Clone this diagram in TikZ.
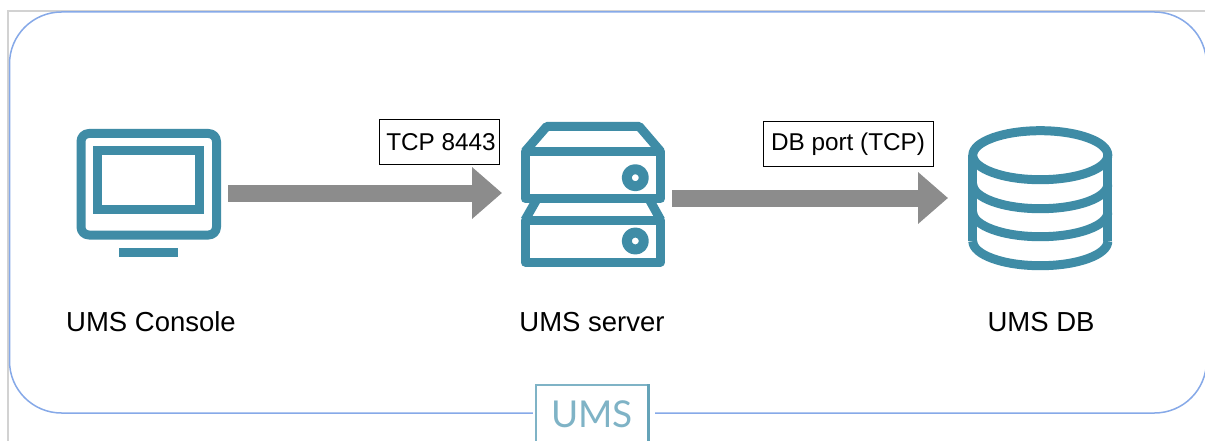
\documentclass[tikz,border=0pt]{standalone}
\usepackage{fontspec}
\setmainfont{Liberation Sans}
\newfontfamily\logofont{Lato}
\usetikzlibrary{arrows.meta}
\definecolor{umsteal}{HTML}{3F8CA6}
\definecolor{umslogo}{HTML}{7FB3C6}
\definecolor{umsframe}{HTML}{86A9E8}
\definecolor{umsrule}{HTML}{D2D2D2}
\definecolor{umsgray}{HTML}{8C8C8C}
\tikzstyle{icon}=[draw=umsteal, line width=9pt, line join=round]
\tikzstyle{iconlabel}=[anchor=base, font=\fontsize{27.5}{30}\selectfont]
\tikzstyle{portlabel}=[draw, line width=1pt, inner sep=0pt, minimum height=45pt, font=\fontsize{24.3}{28}\selectfont]
\tikzstyle{flow}=[draw=umsgray, line width=17pt, -{Triangle[length=30pt,width=50pt]}]
\tikzstyle{logobox}=[draw=umslogo, fill=white, line width=1.5pt, inner sep=0pt, minimum width=112pt, minimum height=70pt]

\begin{document}
\begin{tikzpicture}[x=1pt, y=-1pt]
      \clip (0, 0) rectangle (1205, 441);
      \fill[white] (0, 0) rectangle (1205, 441);
      \draw[umsrule, line width=1.5pt] (8, 441) -- (8, 11) -- (1205, 11);
      \draw[umsframe, line width=1.5pt, rounded corners=52pt] (9.5, 12) rectangle (1206.5, 413);

      \draw[icon, rounded corners=8pt] (81, 133.5) rectangle (216.5, 235);
      \draw[icon, line join=miter] (97.5, 150.5) rectangle (199, 209.5);
      \fill[umsteal] (118.7, 247.7) rectangle (178.3, 256.7);

      \draw[icon] (525, 151.5) -- (546.7, 126.5) -- (639.3, 126.5) -- (660.7, 151.5);
      \draw[icon] (525, 151.5) rectangle (660.7, 198.5);
      \draw[icon] (525, 220) -- (537, 199) (660.7, 220) -- (649, 199);
      \draw[icon] (525, 220) rectangle (660.7, 262);
      \foreach \cy in {177.7, 241}
        \draw[icon, line width=10pt] (635.3, \cy) circle[radius=8.5pt];

      \draw[icon] (1040.3, 155.2) ellipse[x radius=67.5pt, y radius=24.5pt];
      \draw[icon] (972.8, 155.2) -- (972.8, 241.2) (1107.8, 155.2) -- (1107.8, 241.2);
      \foreach \dy in {29, 57, 86}
        \draw[icon] (972.8, 155.2+\dy) arc[start angle=180, end angle=360, x radius=67.5pt, y radius=24.5pt];

      \node[iconlabel] (console_label) at (151, 331) {UMS Console};
      \node[iconlabel] (server_label) at (592, 331) {UMS server};
      \node[iconlabel] (db_label) at (1041, 331) {UMS DB};

      \node[portlabel, minimum width=120pt] (tcp_label) at (439, 142.5) {\hspace*{4pt}TCP 8443};
      \node[portlabel, minimum width=170pt] (db_port_label) at (848, 144.5) {DB port (TCP)};

      \coordinate (out_console) at (228, 193);
      \coordinate (in_server) at (502, 193);
      \coordinate (out_server) at (672, 198);
      \coordinate (in_db) at (948, 198);
      \draw[flow] (out_console) to (in_server);
      \draw[flow] (out_server) to (in_db);

      \fill[white] (533, 405) rectangle (655, 420);
      \node[logobox] (logo) at (592, 420) {};
      \node[text=umslogo, font=\logofont\fontsize{37}{40}\selectfont] (logo_text) at (592, 414) {UMS};
      \draw[umsteal!80, line width=3pt] (logo.north east) -- (logo.south east);
\end{tikzpicture}
\end{document}
